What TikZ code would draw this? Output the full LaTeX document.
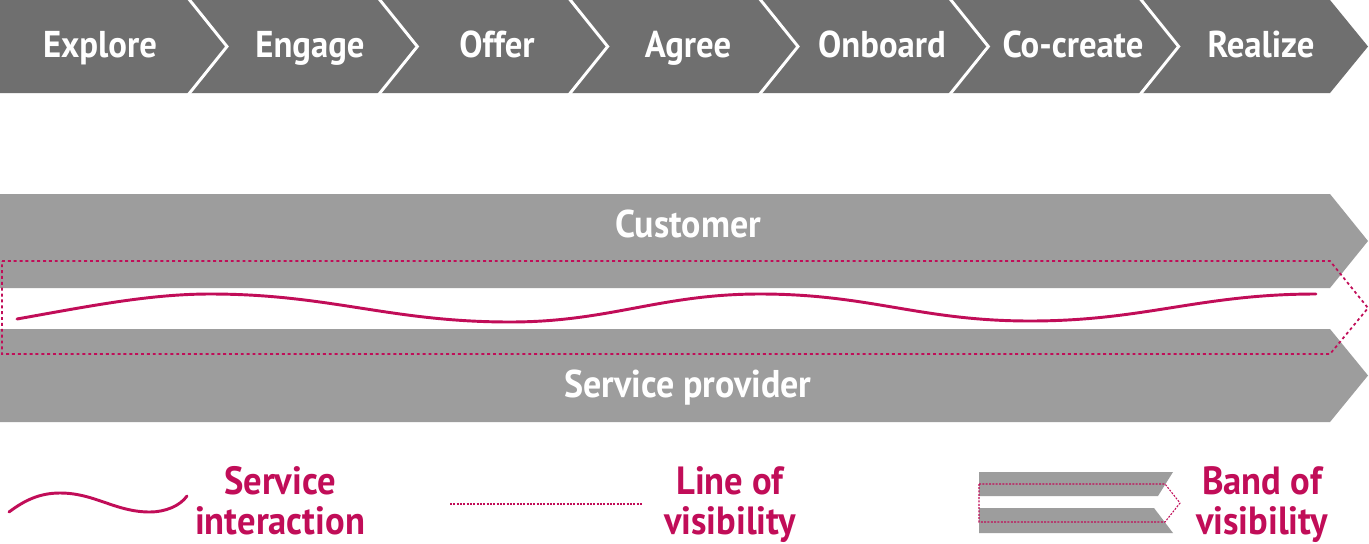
\documentclass[tikz,border=0pt]{standalone}
\usepackage{fontspec}
\setmainfont{PT Sans}[FakeStretch=0.93]
\usetikzlibrary{positioning}
\definecolor{stagegray}{HTML}{6F6F6F}
\definecolor{bandgray}{HTML}{9D9D9D}
\definecolor{vismagenta}{HTML}{C10D58}
\tikzstyle{stage} = [text=white, anchor=base, font=\bfseries\fontsize{28}{30}\selectfont]
\tikzstyle{stagesep} = [draw=white, line width=2.2pt]
\tikzstyle{band} = [fill=bandgray]
\tikzstyle{bandlabel} = [text=white, anchor=base, font=\bfseries\fontsize{29}{31}\selectfont]
\tikzstyle{wave} = [draw=vismagenta, line width=2.2pt, line cap=round]
\tikzstyle{visline} = [draw=vismagenta, line width=1.3pt, dash pattern=on 2.2pt off 2.2pt]
\tikzstyle{legendline} = [draw=vismagenta, line width=0.8pt, dash pattern=on 1.5pt off 1pt]
\tikzstyle{legendtext} = [text=vismagenta, align=center, anchor=north, inner sep=0pt,
                          font=\bfseries\fontsize{29.5}{27}\selectfont]

\begin{document}
\begin{tikzpicture}[x=0.75pt, y=-0.75pt]
    \useasboundingbox[fill=white] (0,0) rectangle (1369,543);

    % stages across the top
    \fill[stagegray] (0,0) -- (1330,0) -- (1368,46.5) -- (1330,93) -- (0,93) -- cycle;
    \foreach \i in {0,...,5}
        \draw[stagesep] ({188+190.33*\i},-2) -- ({227+190.33*\i},46.5) -- ({188+190.33*\i},95);
    \foreach \id/\name/\xc in {explore/Explore/100, engage/Engage/310, offer/Offer/497, agree/Agree/688,
                               onboard/Onboard/882, cocreate/Co-create/1073, realize/Realize/1261}
        \node[stage] (\id) at (\xc,57) {\name};

    % customer and provider bands
    \fill[band] (0,194) -- (1330,194) -- (1368,241) -- (1330,288) -- (0,288) -- cycle;
    \fill[band] (0,329) -- (1330,329) -- (1368,375.5) -- (1330,422) -- (0,422) -- cycle;
    \node[bandlabel] (customer) at (688,237) {Customer};
    \node[bandlabel] (provider) at (688,397) {Service provider};

    % band of visibility and service interaction
    \draw[visline] (2,261) -- (1330,261) -- (1368,308) -- (1330,354) -- (2,354) -- cycle;
    \draw[wave] (17,319) .. controls (90,306) and (150,294) .. (210,294)
        .. controls (330,294) and (390,322) .. (510,322)
        .. controls (610,322) and (660,294) .. (760,294)
        .. controls (870,294) and (920,321) .. (1030,321)
        .. controls (1145,321) and (1200,294) .. (1316,294);

    % legend
    \draw[wave] (9,512) .. controls (25,500) and (40,493) .. (60,493)
        .. controls (95,493) and (115,512) .. (150,512)
        .. controls (165,512) and (180,506) .. (187,496);
    \node[legendtext] (interaction) at (280,466) {\strut Service\\interaction};

    \draw[legendline] (450,504) -- (643,504);
    \node[legendtext] (line) at (730,466) {\strut Line of\\visibility};

    \fill[band] (979,472) -- (1173,472) -- (1158,496) -- (979,496) -- cycle;
    \fill[band] (979,508) -- (1154,508) -- (1173,533) -- (979,533) -- cycle;
    \draw[legendline] (979,484) -- (1165,484) -- (1180,503) -- (1165,522) -- (979,522) -- cycle;
    \node[legendtext] (bandvis) at (1262,466) {\strut Band of\\visibility};
\end{tikzpicture}
\end{document}
